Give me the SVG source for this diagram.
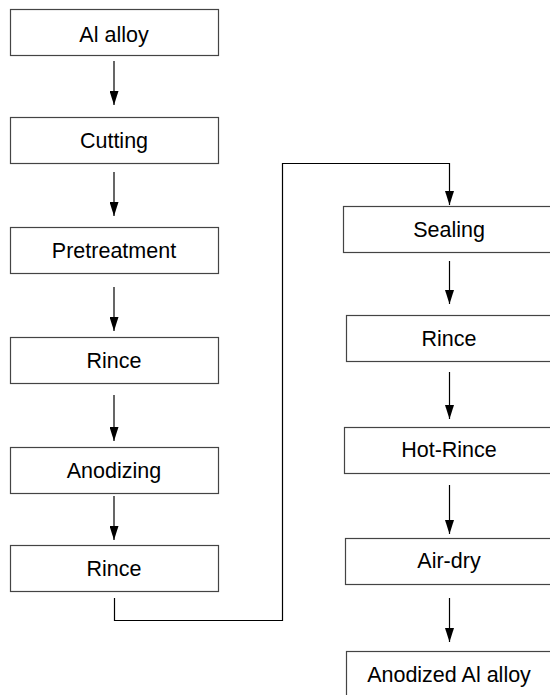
<svg xmlns="http://www.w3.org/2000/svg" width="550" height="695" viewBox="0 0 550 695">
<style>
.box{fill:#fff;stroke:#444;stroke-width:1.2}
.lbl{font-family:"Liberation Sans",Arial,sans-serif;font-size:21.5px;fill:#000;text-anchor:middle}
.con{fill:none;stroke:#000;stroke-width:1.2}
</style>
<defs>
<marker id="ah" markerUnits="userSpaceOnUse" markerWidth="14" markerHeight="9" refX="14" refY="4.5" orient="auto">
<path d="M0,0 L14,4.5 L0,9 z" fill="#000"/>
</marker>
</defs>
<rect width="550" height="695" fill="#fff"/>
<g id="n1"><rect class="box" x="10.5" y="9.5" width="208" height="46"/><text class="lbl" x="114" y="41.5">Al alloy</text></g>
<g id="n2"><rect class="box" x="10.5" y="117.5" width="208" height="46"/><text class="lbl" x="114" y="148">Cutting</text></g>
<g id="n3"><rect class="box" x="10.5" y="227.5" width="208" height="46"/><text class="lbl" x="114" y="258">Pretreatment</text></g>
<g id="n4"><rect class="box" x="10.5" y="337.5" width="208" height="46"/><text class="lbl" x="114" y="368">Rince</text></g>
<g id="n5"><rect class="box" x="10.5" y="447.5" width="208" height="46"/><text class="lbl" x="114" y="478">Anodizing</text></g>
<g id="n6"><rect class="box" x="10.5" y="545.5" width="208" height="46"/><text class="lbl" x="114" y="576">Rince</text></g>
<g id="n7"><rect class="box" x="343.5" y="206.5" width="220" height="46"/><text class="lbl" x="449" y="237">Sealing</text></g>
<g id="n8"><rect class="box" x="346.5" y="315.5" width="220" height="46"/><text class="lbl" x="449" y="346">Rince</text></g>
<g id="n9"><rect class="box" x="344.5" y="427.5" width="220" height="46"/><text class="lbl" x="449" y="457">Hot-Rince</text></g>
<g id="n10"><rect class="box" x="345.5" y="538.5" width="220" height="46"/><text class="lbl" x="449" y="568">Air-dry</text></g>
<g id="n11"><rect class="box" x="346.5" y="651.5" width="220" height="60"/><text class="lbl" x="449" y="682">Anodized Al alloy</text></g>
<g id="connectors">
<line class="con" x1="114" y1="61" x2="114" y2="105" marker-end="url(#ah)"/>
<line class="con" x1="114" y1="172" x2="114" y2="216" marker-end="url(#ah)"/>
<line class="con" x1="114" y1="287" x2="114" y2="331" marker-end="url(#ah)"/>
<line class="con" x1="114" y1="395" x2="114" y2="441" marker-end="url(#ah)"/>
<line class="con" x1="114" y1="496" x2="114" y2="540" marker-end="url(#ah)"/>
<polyline class="con" points="114.5,598 114.5,620.5 282.5,620.5 282.5,163.5 449.5,163.5 449.5,205" marker-end="url(#ah)"/>
<line class="con" x1="449.5" y1="261" x2="449.5" y2="304" marker-end="url(#ah)"/>
<line class="con" x1="449.5" y1="372" x2="449.5" y2="419" marker-end="url(#ah)"/>
<line class="con" x1="449.5" y1="485" x2="449.5" y2="534" marker-end="url(#ah)"/>
<line class="con" x1="449.5" y1="598" x2="449.5" y2="642" marker-end="url(#ah)"/>
</g>
</svg>
